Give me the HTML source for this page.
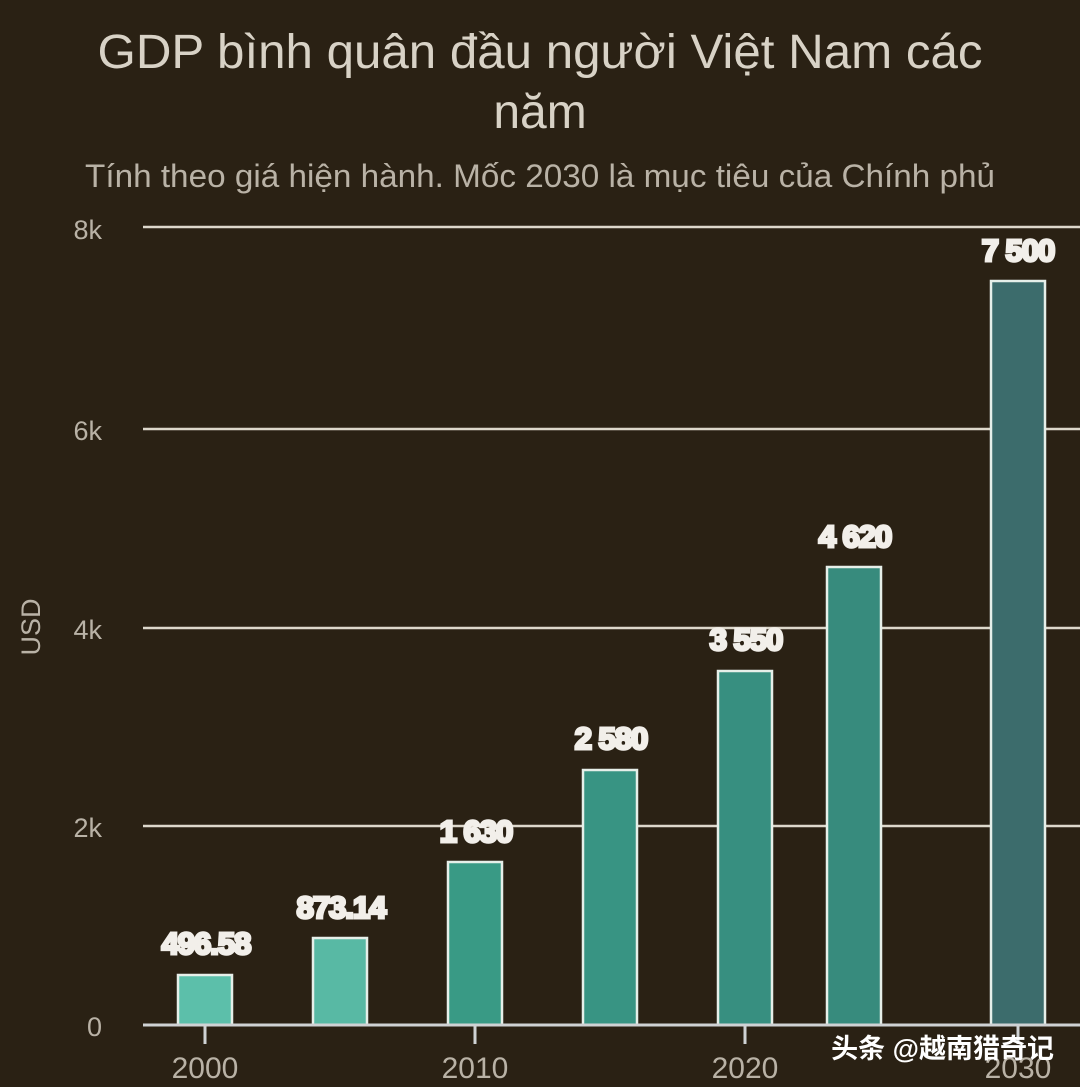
<!DOCTYPE html>
<html><head><meta charset="utf-8"><style>
body{margin:0;background:#2a2114;}
svg{display:block}
</style></head><body>
<svg width="1080" height="1087" xmlns="http://www.w3.org/2000/svg">
<rect width="1080" height="1087" fill="#2a2114"/>
<g font-family="'Liberation Sans', 'Noto Sans CJK SC', sans-serif">
<text x="540" y="68" text-anchor="middle" font-size="48" textLength="885" lengthAdjust="spacingAndGlyphs" fill="#d8d2c6">GDP bình quân đầu người Việt Nam các</text>
<text x="540" y="128" text-anchor="middle" font-size="48" fill="#d8d2c6">năm</text>
<text x="540" y="187" text-anchor="middle" font-size="32" textLength="910" lengthAdjust="spacingAndGlyphs" fill="#b9b2a6">Tính theo giá hiện hành. Mốc 2030 là mục tiêu của Chính phủ</text>
<g stroke="#ddd8cc" stroke-width="2.5">
<line x1="143" y1="227" x2="1080" y2="227"/>
<line x1="143" y1="429" x2="1080" y2="429"/>
<line x1="143" y1="628" x2="1080" y2="628"/>
<line x1="143" y1="826" x2="1080" y2="826"/>
</g>
<g font-size="27" fill="#b9b2a6" text-anchor="end">
<text x="102" y="239">8k</text><text x="102" y="440">6k</text><text x="102" y="639">4k</text><text x="102" y="837">2k</text><text x="102" y="1036">0</text>
</g>
<text transform="translate(40,627) rotate(-90)" text-anchor="middle" font-size="27" fill="#b9b2a6">USD</text>
<g stroke="#e6efe9" stroke-width="2.5">
<rect x="178" y="975" width="54" height="50" fill="#5cbfaa"/>
<rect x="313" y="938" width="54" height="87" fill="#58b9a4"/>
<rect x="448" y="862" width="54" height="163" fill="#399a85"/>
<rect x="583" y="770" width="54" height="255" fill="#389483"/>
<rect x="718" y="671" width="54" height="354" fill="#378f80"/>
<rect x="827" y="567" width="54" height="458" fill="#378b7d"/>
<rect x="991" y="281" width="54" height="744" fill="#3c6c6c"/>
</g>
<line x1="143" y1="1025" x2="1080" y2="1025" stroke="#cfd2d4" stroke-width="3"/>
<g stroke="#cfd2d4" stroke-width="3">
<line x1="205" y1="1025" x2="205" y2="1044"/><line x1="475" y1="1025" x2="475" y2="1044"/><line x1="745" y1="1025" x2="745" y2="1044"/><line x1="1018" y1="1025" x2="1018" y2="1044"/>
</g>
<g font-size="30" fill="#b9b2a6" text-anchor="middle">
<text x="205" y="1078">2000</text><text x="475" y="1078">2010</text><text x="745" y="1078">2020</text><text x="1018" y="1078">2030</text>
</g>
<g font-size="31" font-weight="bold" fill="#f2efea" stroke="#f2efea" stroke-width="3" text-anchor="middle" letter-spacing="-1">
<text x="206" y="954">496.58</text>
<text x="341" y="918">873.14</text>
<text x="476" y="842">1 630</text>
<text x="611" y="749">2 580</text>
<text x="746" y="650">3 550</text>
<text x="855" y="547">4 620</text>
<text x="1018" y="261">7 500</text>
</g>
<text x="1054" y="1058" text-anchor="end" font-size="27" font-weight="bold" fill="#ffffff">头条 @越南猎奇记</text>
</g>
</svg>
</body></html>
